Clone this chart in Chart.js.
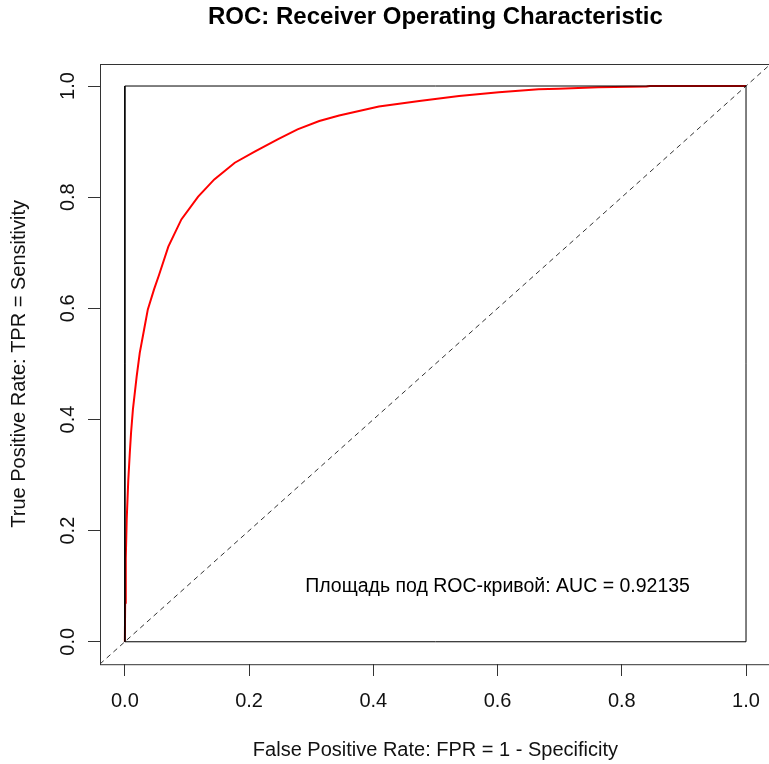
<!DOCTYPE html>
<html>
<head>
<meta charset="utf-8">
<script src="https://cdn.jsdelivr.net/npm/chart.js@4.4.1/dist/chart.umd.min.js"></script>
<style>
  html, body { margin: 0; padding: 0; background: #fff; overflow: hidden; }
  canvas { display: block; }
</style>
</head>
<body>
<canvas id="roc" width="773" height="764"></canvas>
<script>
// DATA
const fprValues = [0, 0.0005, 0.0015, 0.003, 0.0055, 0.008, 0.010, 0.013, 0.019, 0.024, 0.031, 0.037,
  0.047, 0.055, 0.070, 0.091, 0.118, 0.144, 0.177, 0.209, 0.246, 0.278, 0.313, 0.345, 0.409,
  0.474, 0.538, 0.602, 0.666, 0.698, 0.762, 0.840, 0.845, 1.0];
const tprValues = [0, 0.07, 0.15, 0.22, 0.29, 0.34, 0.376, 0.418, 0.477, 0.52, 0.562, 0.598,
  0.634, 0.66, 0.711, 0.76, 0.801, 0.832, 0.862, 0.882, 0.904, 0.922, 0.937, 0.947, 0.963,
  0.973, 0.982, 0.989, 0.994, 0.995, 0.998, 0.999, 1.0, 1.0];
const squareX = [0, 1, 1, 0, 0];
const squareY = [0, 0, 1, 1, 0];
const diagX = [-0.04, 1.04];
const diagY = [-0.04, 1.04];
const xTicks = [0, 0.2, 0.4, 0.6, 0.8, 1.0];
const yTicks = [0, 0.2, 0.4, 0.6, 0.8, 1.0];
const aucText = "Площадь под ROC-кривой: AUC = 0.92135";
const aucPos = [0.6, 0.1];

const FONT = "'Liberation Sans', Arial, sans-serif";
const toPoints = (xs, ys) => xs.map((x, i) => ({ x: x, y: ys[i] }));

// box around plot region + AUC text
const rPlot = {
  id: "rPlot",
  afterDatasetsDraw(chart) {
    const { ctx, scales } = chart;
    ctx.save();
    ctx.fillStyle = "#000";
    ctx.font = "19.5px " + FONT;
    ctx.textAlign = "center";
    ctx.textBaseline = "middle";
    ctx.fillText(aucText, scales.x.getPixelForValue(aucPos[0]), scales.y.getPixelForValue(aucPos[1]));
    ctx.restore();
  },
  afterDraw(chart) {
    const { ctx, chartArea: a } = chart;
    ctx.save();
    ctx.strokeStyle = "#333";
    ctx.lineWidth = 1;
    ctx.strokeRect(Math.round(a.left) + 0.5, Math.round(a.top) + 0.5, a.right - a.left, a.bottom - a.top);
    ctx.restore();
  }
};

new Chart(document.getElementById("roc"), {
  type: "scatter",
  data: {
    datasets: [
      { data: toPoints(squareX, squareY), showLine: true, borderColor: "#000", borderWidth: 1,
        pointRadius: 0, order: 0 },
      { data: toPoints(diagX, diagY), showLine: true, borderColor: "#333", borderWidth: 1,
        borderDash: [5, 4], pointRadius: 0, order: 1 },
      { data: toPoints(fprValues, tprValues), showLine: true, borderColor: "#ff0000", borderWidth: 2,
        pointRadius: 0, order: 2 }
    ]
  },
  options: {
    responsive: false,
    animation: false,
    layout: { padding: 0 },
    plugins: {
      legend: { display: false },
      tooltip: { enabled: false },
      title: {
        display: true,
        fullSize: false,
        text: "ROC: Receiver Operating Characteristic",
        color: "#000",
        font: { family: FONT, size: 24, weight: "bold" },
        padding: { top: 3, bottom: 32 }
      }
    },
    scales: {
      x: {
        type: "linear",
        min: -0.04, max: 1.04,
        afterBuildTicks: s => { s.ticks = xTicks.map(v => ({ value: v })); },
        afterFit: s => { s.height = 100; },
        grid: { display: true, drawOnChartArea: false, drawTicks: true, tickLength: 12, tickColor: "#333" },
        border: { display: false },
        ticks: { color: "#111", font: { family: FONT, size: 20 }, padding: 13,
          maxRotation: 0, callback: v => v.toFixed(1) },
        title: { display: true, text: "False Positive Rate: FPR = 1 - Specificity", color: "#111",
          font: { family: FONT, size: 20 }, padding: { top: 0, bottom: 2 } }
      },
      y: {
        type: "linear",
        min: -0.04, max: 1.04,
        afterBuildTicks: s => { s.ticks = yTicks.map(v => ({ value: v })); },
        afterFit: s => { s.width = 100; },
        grid: { display: true, drawOnChartArea: false, drawTicks: true, tickLength: 12, tickColor: "#333" },
        border: { display: false },
        ticks: { color: "#111", font: { family: FONT, size: 20 }, padding: 6,
          minRotation: 90, maxRotation: 90, crossAlign: "center", callback: v => v.toFixed(1) },
        title: { display: true, text: "True Positive Rate: TPR = Sensitivity", color: "#111",
          font: { family: FONT, size: 20 }, padding: { top: 7, bottom: 0 } }
      }
    }
  },
  plugins: [rPlot]
});
</script>
</body>
</html>
